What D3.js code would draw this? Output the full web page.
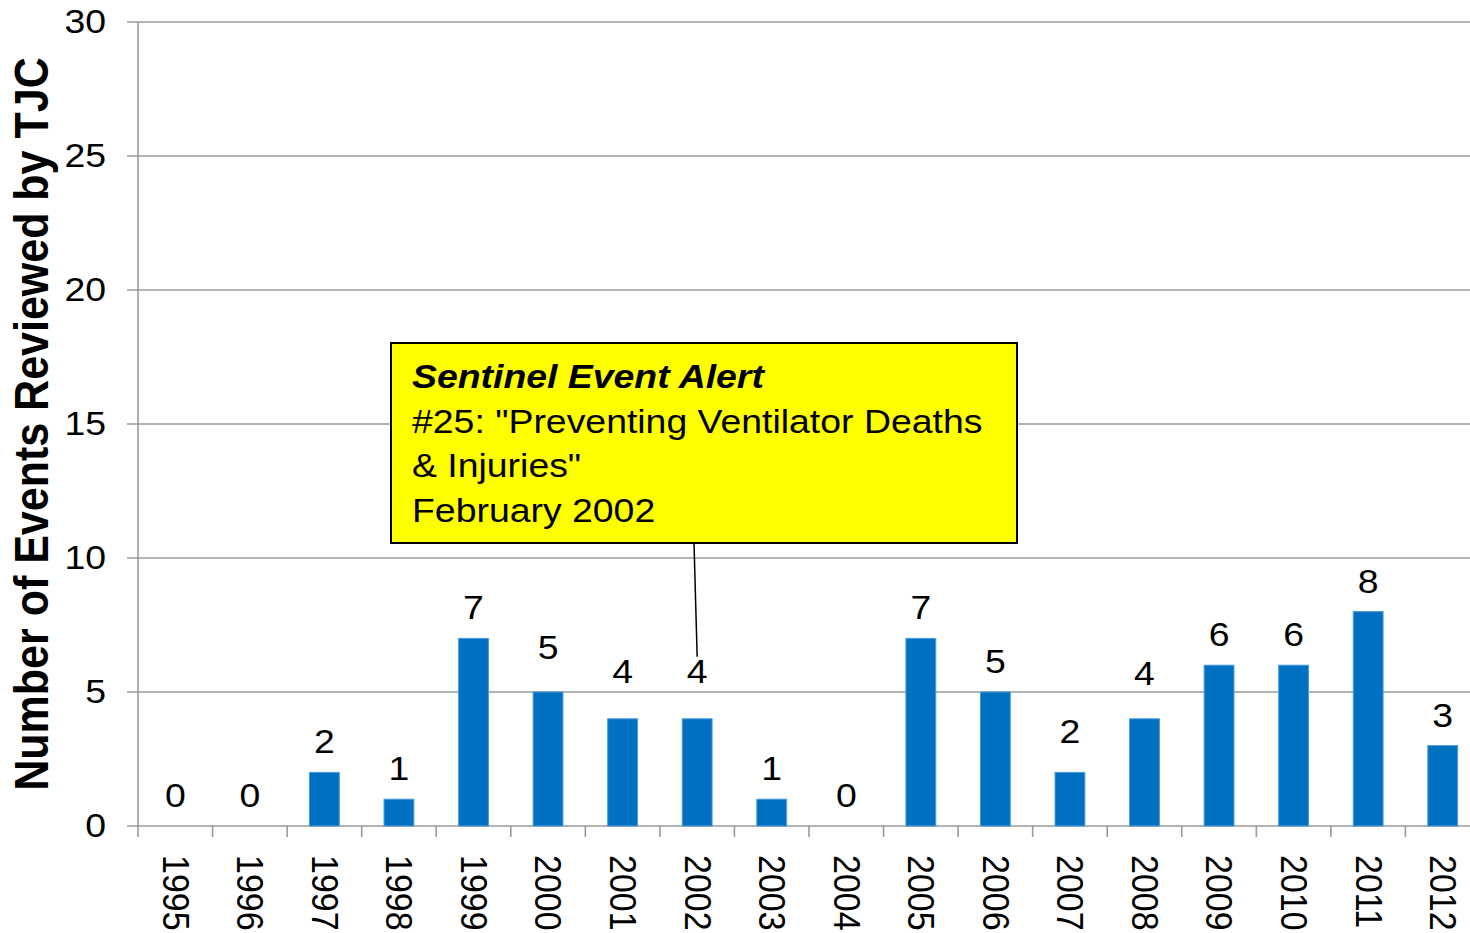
<!DOCTYPE html>
<html>
<head>
<meta charset="utf-8">
<script src="https://cdn.jsdelivr.net/npm/d3@7"></script>
<style>
  html, body { margin: 0; padding: 0; background: #fff; }
  svg { display: block; font-family: "Liberation Sans", Arial, sans-serif; }
</style>
</head>
<body>
<div id="chart"></div>
<script>
const years = ["1995", "1996", "1997", "1998", "1999", "2000", "2001", "2002", "2003",
  "2004", "2005", "2006", "2007", "2008", "2009", "2010", "2011", "2012"];
const events = [0, 0, 2, 1, 7, 5, 4, 4, 1, 0, 7, 5, 2, 4, 6, 6, 8, 3];
const yTicks = [0, 5, 10, 15, 20, 25, 30];
const noteLines = ["Sentinel Event Alert", "#25: \"Preventing Ventilator Deaths", "& Injuries\"", "February 2002"];
const noteYear = "2002";
// some value labels were dragged up by hand in the original
const labelLift = { "2000": 14, "2001": 17, "2002": 17, "2007": 10, "2008": 15 };

const W = 1470, H = 933;
const plotLeft = 138, plotRight = 1480, plotTop = 22, plotBottom = 826;
const stretch = 1.1; // the original text is a bit wide

const svg = d3.select("#chart").append("svg")
  .attr("width", W)
  .attr("height", H);

const x = d3.scaleBand()
  .domain(years)
  .range([plotLeft, plotRight])
  .paddingInner(0.6)
  .paddingOuter(0.3);

const y = d3.scaleLinear()
  .domain([0, 30])
  .range([plotBottom, plotTop]);

// gridlines + y ticks
svg.append("g")
  .selectAll("line")
  .data(yTicks)
  .join("line")
  .attr("x1", plotLeft - 11)
  .attr("x2", plotRight)
  .attr("y1", d => y(d))
  .attr("y2", d => y(d))
  .attr("stroke", "#9a9a9a")
  .attr("stroke-width", 1.6);

svg.append("line")
  .attr("x1", plotLeft).attr("x2", plotLeft)
  .attr("y1", plotTop).attr("y2", plotBottom + 11)
  .attr("stroke", "#9a9a9a")
  .attr("stroke-width", 1.6);

// category ticks on the x axis
const tickXs = years.map(d => x(d) - x.step() * x.paddingInner() / 2).concat([plotRight]);
svg.append("g")
  .selectAll("line")
  .data(tickXs.slice(1))
  .join("line")
  .attr("x1", d => d).attr("x2", d => d)
  .attr("y1", plotBottom).attr("y2", plotBottom + 11)
  .attr("stroke", "#9a9a9a")
  .attr("stroke-width", 1.6);

svg.append("g")
  .selectAll("text")
  .data(yTicks)
  .join("text")
  .attr("transform", d => `translate(106,${y(d)}) scale(${stretch},1)`)
  .attr("text-anchor", "end")
  .attr("dominant-baseline", "central")
  .attr("font-size", 34)
  .text(d => d);

// bars
svg.append("g")
  .selectAll("rect")
  .data(events)
  .join("rect")
  .attr("x", (d, i) => x(years[i]))
  .attr("y", d => y(d))
  .attr("width", x.bandwidth())
  .attr("height", d => plotBottom - y(d))
  .attr("fill", "#0070c0")
  .attr("stroke", "#4a9be0")
  .attr("stroke-width", 1);

// value labels
svg.append("g")
  .selectAll("text")
  .data(events)
  .join("text")
  .attr("transform", (d, i) => {
    const cx = x(years[i]) + x.bandwidth() / 2;
    const cy = y(d) - 19 - (labelLift[years[i]] || 0);
    return `translate(${cx},${cy}) scale(${stretch},1)`;
  })
  .attr("text-anchor", "middle")
  .attr("font-size", 34)
  .text(d => d);

// year labels, turned to read downward
svg.append("g")
  .selectAll("text")
  .data(years)
  .join("text")
  .attr("transform", d => `translate(${x(d) + x.bandwidth() / 2},855) scale(${stretch},1) rotate(90)`)
  .attr("text-anchor", "start")
  .attr("dominant-baseline", "central")
  .attr("font-size", 34)
  .text(d => d);

// axis title
svg.append("text")
  .attr("transform", `translate(48,${(plotTop + plotBottom) / 2}) scale(${stretch},1) rotate(-90)`)
  .attr("text-anchor", "middle")
  .attr("font-size", 43)
  .attr("font-weight", "bold")
  .text("Number of Events Reviewed by TJC");

// callout box
const noteX = 391, noteY = 343, noteW = 626, noteH = 200;
const labelTop = y(events[years.indexOf(noteYear)]) - 19 - labelLift[noteYear] - 26;
svg.append("line")
  .attr("x1", 694).attr("y1", noteY + noteH)
  .attr("x2", x(noteYear) + x.bandwidth() / 2).attr("y2", labelTop)
  .attr("stroke", "#000")
  .attr("stroke-width", 1.5);

svg.append("rect")
  .attr("x", noteX).attr("y", noteY)
  .attr("width", noteW).attr("height", noteH)
  .attr("fill", "#ffff00")
  .attr("stroke", "#000")
  .attr("stroke-width", 2);

svg.append("g")
  .selectAll("text")
  .data(noteLines)
  .join("text")
  .attr("transform", (d, i) => `translate(412,${388 + i * 44.5}) scale(${stretch},1)`)
  .attr("font-size", 34)
  .attr("font-weight", (d, i) => i === 0 ? "bold" : "normal")
  .attr("font-style", (d, i) => i === 0 ? "italic" : "normal")
  .text(d => d);
</script>
</body>
</html>
